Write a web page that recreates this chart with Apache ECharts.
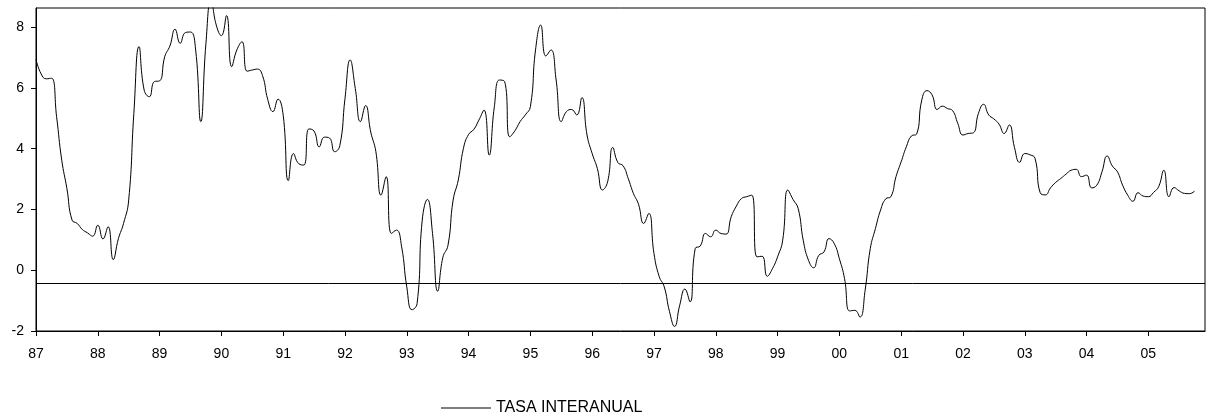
<!DOCTYPE html>
<html>
<head>
<meta charset="utf-8">
<script src="https://cdn.jsdelivr.net/npm/echarts@6/dist/echarts.min.js"></script>
<style>
  html, body { margin: 0; padding: 0; background: #fff; }
  #chart { width: 1208px; height: 416px; }
</style>
</head>
<body>
<div id="chart"></div>
<script>
// Year tick labels (January of each year)
const yearLabels = ['87','88','89','90','91','92','93','94','95','96','97','98','99','00','01','02','03','04','05'];
// Monthly series "TASA INTERANUAL", Jan 1987 .. Oct 2005
const tasaInteranual = [
  // 1987
  6.94, 6.46, 6.30, 6.32, 5.05, 3.62, 2.69, 1.65, 1.54, 1.34, 1.23, 1.12,
  // 1988
  1.48, 1.03, 1.43, 0.35, 1.04, 1.54, 2.31, 5.16, 7.36, 5.93, 5.71, 6.21,
  // 1989
  6.23, 7.03, 7.38, 7.93, 7.47, 7.82, 7.84, 7.25, 4.89, 7.47, 8.90, 8.07,
  // 1990
  7.72, 8.38, 6.70, 7.25, 7.52, 6.55, 6.59, 6.62, 6.40, 5.62, 5.22, 5.63,
  // 1991
  5.10, 2.95, 3.84, 3.51, 3.46, 4.65, 4.58, 4.06, 4.38, 4.35, 3.90, 4.10,
  // 1992
  5.65, 6.92, 5.98, 4.89, 5.42, 4.55, 3.90, 2.47, 3.08, 1.21, 1.32, 0.77,
  // 1993
  -0.55, -1.30, -1.10, 1.65, 2.33, 1.21, -0.69, 0.42, 0.82, 2.31, 2.97, 4.01,
  // 1994
  4.47, 4.63, 4.94, 5.27, 3.79, 5.38, 6.26, 6.21, 4.39, 4.59, 4.89, 5.11,
  // 1995
  5.38, 7.25, 8.07, 7.05, 7.25, 6.26, 4.89, 5.22, 5.29, 5.11, 5.68, 4.45,
  // 1996
  3.84, 3.35, 2.64, 2.91, 4.04, 3.54, 3.44, 3.02, 2.53, 2.17, 1.54, 1.87,
  // 1997
  0.55, -0.20, -0.55, -1.35, -1.85, -1.15, -0.62, -1.04, 0.71, 0.80, 1.21, 1.10,
  // 1998
  1.32, 1.21, 1.19, 1.76, 2.11, 2.36, 2.42, 2.47, 0.44, 0.46, -0.20, 0.05,
  // 1999
  0.44, 0.99, 2.64, 2.33, 2.03, 0.97, 0.33, 0.08, 0.49, 0.60, 1.04, 0.88,
  // 2000
  0.38, -0.27, -1.34, -1.32, -1.54, -0.66, 0.71, 1.37, 1.98, 2.35, 2.42, 3.08,
  // 2001
  3.57, 4.06, 4.42, 4.48, 5.60, 5.91, 5.77, 5.29, 5.40, 5.32, 5.25, 4.83,
  // 2002
  4.45, 4.50, 4.52, 5.16, 5.46, 5.11, 4.98, 4.81, 4.50, 4.78, 4.04, 3.55,
  // 2003
  3.84, 3.80, 3.68, 2.55, 2.48, 2.71, 2.89, 3.02, 3.16, 3.29, 3.32, 3.08,
  // 2004
  3.13, 2.71, 2.80, 3.24, 3.76, 3.43, 3.24, 2.80, 2.47, 2.27, 2.55, 2.44,
  // 2005
  2.42, 2.56, 2.75, 3.29, 2.42, 2.72, 2.61, 2.53, 2.52, 2.61
];
// Horizontal reference level
const referenceLevel = -0.42;
const seriesName = 'TASA INTERANUAL';

// Monthly categories Jan 1987 .. Dec 2005
const monthCategories = [];
yearLabels.forEach(function (y) {
  for (let m = 0; m < 12; m++) monthCategories.push(m === 0 ? y : y + '-' + (m + 1));
});

const FONT = '"Liberation Sans", Arial, sans-serif';
const chart = echarts.init(document.getElementById('chart'), null, { renderer: 'canvas' });
chart.setOption({
  animation: false,
  backgroundColor: '#ffffff',
  textStyle: { fontFamily: FONT, color: '#000' },
  grid: {
    left: 36, right: 3, top: 8, bottom: 85,
    containLabel: false,
    show: true, borderColor: '#000', borderWidth: 1, backgroundColor: 'transparent'
  },
  legend: {
    left: 436, top: 395,
    itemWidth: 50, itemHeight: 1, itemGap: 10,
    icon: 'rect',
    textStyle: { fontFamily: FONT, fontSize: 16, color: '#000', padding: [0, 0, 0, 0] },
    data: [{ name: seriesName, itemStyle: { color: '#000' } }]
  },
  xAxis: {
    type: 'category',
    data: monthCategories,
    boundaryGap: false,
    axisLine: { show: true, onZero: false, lineStyle: { color: '#000', width: 1 } },
    axisTick: {
      show: true, length: 5, inside: false,
      interval: function (i) { return i % 12 === 0; },
      lineStyle: { color: '#000' }
    },
    axisLabel: {
      interval: function (i) { return i % 12 === 0; },
      margin: 16,
      fontSize: 14, fontFamily: FONT, color: '#000'
    },
    splitLine: { show: false }
  },
  yAxis: {
    type: 'value',
    min: -2, max: 8.63, interval: 2,
    axisLine: { show: true, lineStyle: { color: '#000', width: 1 } },
    axisTick: { show: true, length: 5, customValues: [-2, 0, 2, 4, 6, 8], lineStyle: { color: '#000' } },
    axisLabel: {
      customValues: [-2, 0, 2, 4, 6, 8],
      margin: 12, fontSize: 14, fontFamily: FONT, color: '#000',
      formatter: function (v) { return Math.abs(v - Math.round(v)) < 1e-6 ? String(Math.round(v)) : ''; }
    },
    splitLine: { show: false }
  },
  series: [{
    name: seriesName,
    type: 'line',
    data: tasaInteranual,
    smooth: 0.5,
    showSymbol: false,
    symbol: 'none',
    clip: true,
    lineStyle: { color: '#000', width: 1 },
    itemStyle: { color: '#000' },
    markLine: {
      silent: true,
      symbol: 'none',
      label: { show: false },
      lineStyle: { color: '#000', width: 1, type: 'solid' },
      data: [{ yAxis: referenceLevel }]
    }
  }]
});
</script>
</body>
</html>
